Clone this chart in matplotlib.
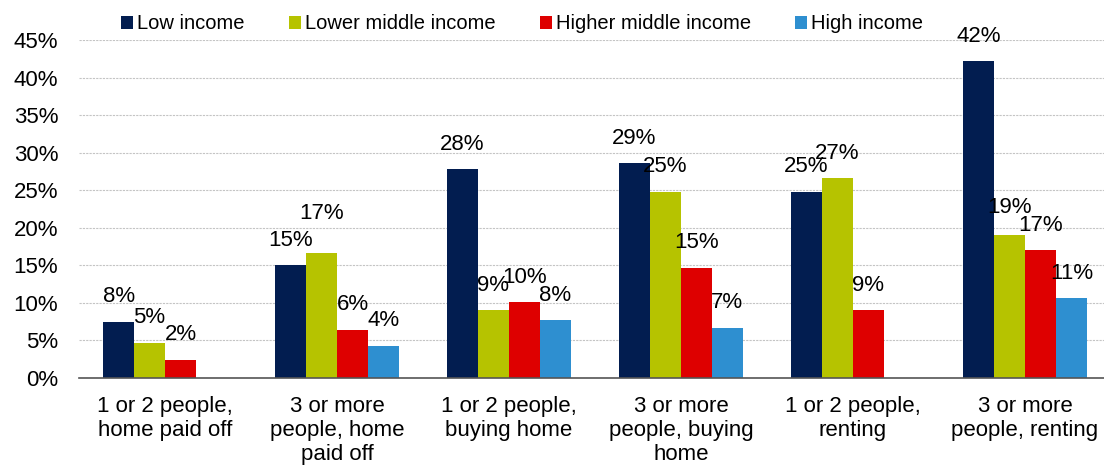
import numpy as np
import matplotlib.pyplot as plt

plt.rcParams['font.family'] = ['Liberation Sans', 'DejaVu Sans']

# data (percent of households)
groups = ["1 or 2 people,\nhome paid off", "3 or more\npeople, home\npaid off",
          "1 or 2 people,\nbuying home", "3 or more\npeople, buying\nhome",
          "1 or 2 people,\nrenting", "3 or more\npeople, renting"]
series = ["Low income", "Lower middle income", "Higher middle income", "High income"]
low_income = [7.5, 15.0, 27.8, 28.6, 24.8, 42.2]
lower_middle = [4.7, 16.6, 9.0, 24.8, 26.6, 19.0]
higher_middle = [2.4, 6.4, 10.1, 14.7, 9.0, 17.0]
high_income = [0.0, 4.3, 7.7, 6.7, 0.0, 10.6]
colors = ["#021D50", "#B6C300", "#DE0000", "#2E8FD0"]

# a couple of labels sit a bit higher in the original (series, group) -> extra points
nudge = {(1, 1): 11, (1, 5): 2}

fig = plt.figure(figsize=(11.04, 4.71), dpi=100)
ax = fig.add_axes([0.0716, 0.1975, 0.9284, 0.7175])

x = np.arange(len(groups))
w = 0.18
all_vals = [low_income, lower_middle, higher_middle, high_income]
for i, vals in enumerate(all_vals):
    pos = x + (i - 1.5) * w
    ax.bar(pos, vals, width=w, color=colors[i], label=series[i], zorder=3)
    for j, (xp, v) in enumerate(zip(pos, vals)):
        if v > 0:
            ax.annotate("%d%%" % round(v), (xp, v), xytext=(0, 18 + nudge.get((i, j), 0)),
                        textcoords="offset points", ha="center", va="center",
                        fontsize=16, color="black")

ax.set_ylim(0, 45)
ax.set_xlim(-0.5, 5.46)
ax.set_yticks(np.arange(0, 46, 5))
ax.set_yticklabels(["%d%%" % t for t in range(0, 46, 5)])
ax.set_xticks(x)
ax.set_xticklabels(groups, linespacing=1.2)
ax.tick_params(axis="y", length=0, pad=15, labelsize=16)
ax.tick_params(axis="x", length=0, pad=13, labelsize=16)
ax.yaxis.grid(True, color="#C4C4C4", linestyle=(0, (2, 1)), linewidth=0.8, zorder=0)
for s in ["top", "right", "left"]:
    ax.spines[s].set_visible(False)
ax.spines["bottom"].set_color("#555555")
ax.spines["bottom"].set_linewidth(1.2)
ax.spines["bottom"].set_zorder(4)

fig.legend(loc="upper left", bbox_to_anchor=(0.093, 1.008), ncol=4, frameon=False,
           fontsize=14.5, handlelength=0.6, handleheight=0.6, handletextpad=0.2,
           columnspacing=2.2)

fig.savefig("out.png", dpi=100)
